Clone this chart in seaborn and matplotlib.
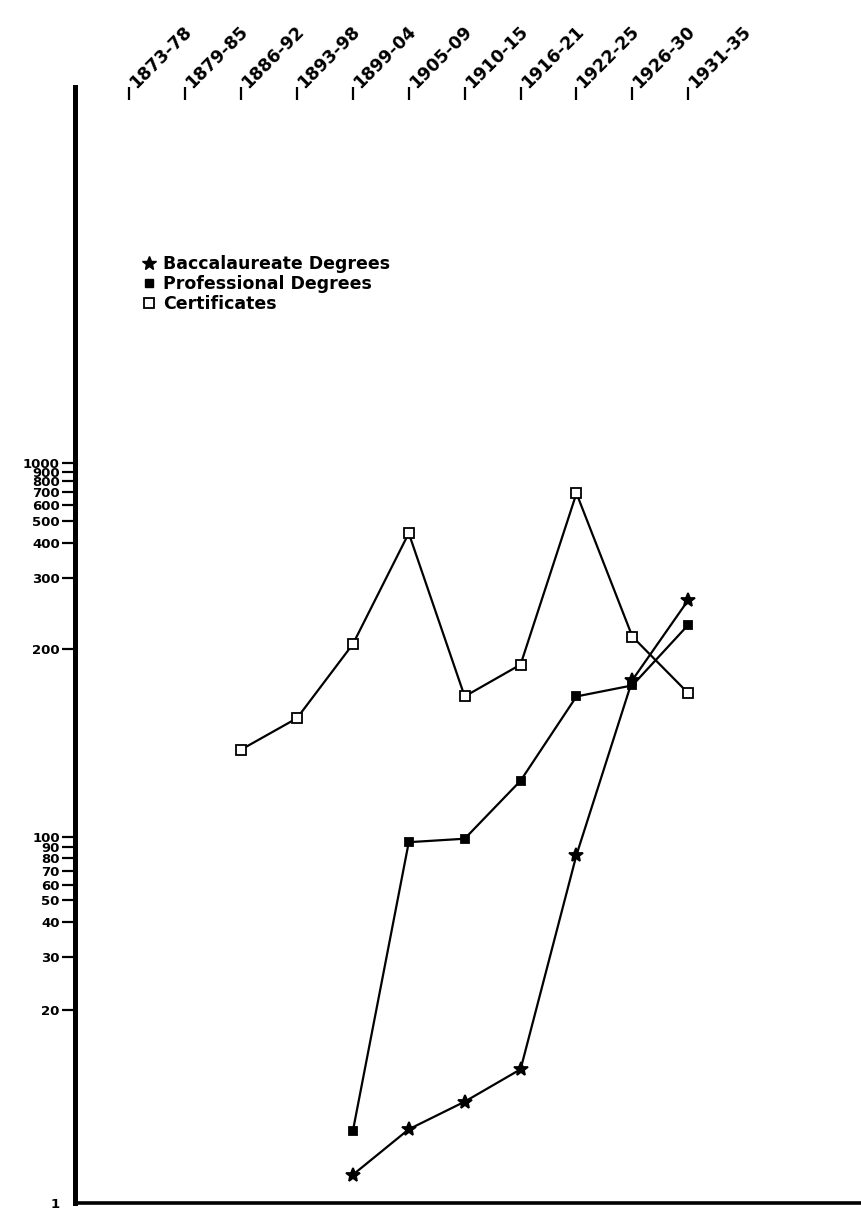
import numpy as np
import pandas as pd
import matplotlib
matplotlib.use("Agg")
import matplotlib.pyplot as plt
import seaborn as sns
from matplotlib.lines import Line2D
from matplotlib.ticker import FixedLocator, FixedFormatter, NullLocator
from matplotlib.transforms import ScaledTranslation

# ---- data -------------------------------------------------------------
periods = ["1873-78", "1879-85", "1886-92", "1893-98", "1899-04", "1905-09",
           "1910-15", "1916-21", "1922-25", "1926-30", "1931-35"]

baccalaureate = [None, None, None, None, 1.55, 3.14, 4.82, 7.97, 82.9, 178.5, 265]
professional = [None, None, None, None, 3.06, 94.7, 98, 123, 168, 175, 230]
certificates = [None, None, 138, 155, 206, 441, 168, 189, 687, 215, 170]

y_tick_values = [1, 20, 30, 40, 50, 60, 70, 80, 90, 100,
                 200, 300, 400, 500, 600, 700, 800, 900, 1000]

# hand-ruled ratio axis: where each ruled value sits above the baseline
axis_values = [1, 20, 30, 40, 50, 60, 70, 80, 90, 100,
               200, 300, 400, 500, 600, 700, 800, 900, 1000, 1e6]
axis_heights = [0, 193, 246.3, 281.3, 303, 318.3, 332.3, 344.7, 355.7, 366.3,
                553.7, 624.7, 660.3, 682, 698, 711.3, 722, 731.3, 739.7, 1288.7]
axis_top_height = 1116

# ---- style ------------------------------------------------------------
sns.set_style("ticks")
plt.rcParams["font.family"] = ["DejaVu Sans"]
plt.rcParams["font.weight"] = "bold"
for key in ("text.color", "axes.labelcolor", "xtick.color", "ytick.color",
            "axes.edgecolor"):
    plt.rcParams[key] = "black"

fig = plt.figure(figsize=(8.61, 12.12), dpi=100)
ax = fig.add_axes([75 / 861, 9 / 1212, 786 / 861, 1116 / 1212])

series = [
    ("Baccalaureate Degrees", baccalaureate,
     dict(marker="*", markersize=10.5, markerfacecolor="black")),
    ("Professional Degrees", professional,
     dict(marker="s", markersize=5.5, markerfacecolor="black")),
    ("Certificates", certificates,
     dict(marker="s", markersize=7.5, markerfacecolor="white")),
]

for name, vals, style in series:
    df = pd.DataFrame({"period": np.arange(len(periods)), "count": vals}).dropna()
    sns.lineplot(data=df, x="period", y="count", ax=ax, color="black",
                 linewidth=1.6, markeredgecolor="black", markeredgewidth=1.3,
                 errorbar=None, **style)

# ---- custom ratio scale ----------------------------------------------
log_anchor = np.log10(axis_values)
h_anchor = np.array(axis_heights, dtype=float)


def forward(v):
    v = np.asarray(v, dtype=float)
    return np.interp(np.log10(np.clip(v, 1e-6, None)), log_anchor, h_anchor)


def inverse(y):
    y = np.asarray(y, dtype=float)
    return 10 ** np.interp(y, h_anchor, log_anchor)


ax.set_yscale("function", functions=(forward, inverse))
ax.set_ylim(1, float(inverse(axis_top_height)))
ax.yaxis.set_major_locator(FixedLocator(y_tick_values))
ax.yaxis.set_major_formatter(FixedFormatter([str(v) for v in y_tick_values]))
ax.yaxis.set_minor_locator(NullLocator())
ax.tick_params(axis="y", direction="out", length=9.5, width=1.6, pad=1.5,
               labelsize=9.5, colors="black")
ax.yaxis.get_major_ticks()[0].tick1line.set_visible(False)

# ---- period axis along the top ---------------------------------------
ax.set_xlim(-0.971, 13.09)
ax.xaxis.tick_top()
ax.set_xticks(range(len(periods)))
ax.set_xticklabels(periods, rotation=45, ha="left", va="baseline",
                   rotation_mode="anchor")
ax.xaxis.set_minor_locator(NullLocator())
ax.tick_params(axis="x", direction="in", length=9.5, width=1.6, pad=0,
               labelsize=12.5, colors="black")

ax.set_xlabel("")
ax.set_ylabel("")

for side in ("top", "right"):
    ax.spines[side].set_visible(False)
ax.spines["left"].set_linewidth(3.6)
ax.spines["bottom"].set_linewidth(2.6)

# ---- legend -----------------------------------------------------------
handles = [
    Line2D([], [], linestyle="", marker="*", markersize=10, color="black"),
    Line2D([], [], linestyle="", marker="s", markersize=5.5, color="black"),
    Line2D([], [], linestyle="", marker="s", markersize=7.5,
           markerfacecolor="white", markeredgecolor="black", markeredgewidth=1.3),
]
fig.legend(handles, [s[0] for s in series], loc="upper left",
           bbox_to_anchor=(0.165, 0.7895), frameon=False,
           prop={"weight": "bold", "size": 12.5},
           handlelength=0.85, handletextpad=0.35, labelspacing=0.1,
           borderpad=0, borderaxespad=0)

# nudge the slanted period labels so they start at the tick tops
shift = ScaledTranslation(7 / 100, -2 / 100, fig.dpi_scale_trans)
for lbl in ax.get_xticklabels():
    lbl.set_transform(lbl.get_transform() + shift)

fig.savefig("out.png", dpi=100)
